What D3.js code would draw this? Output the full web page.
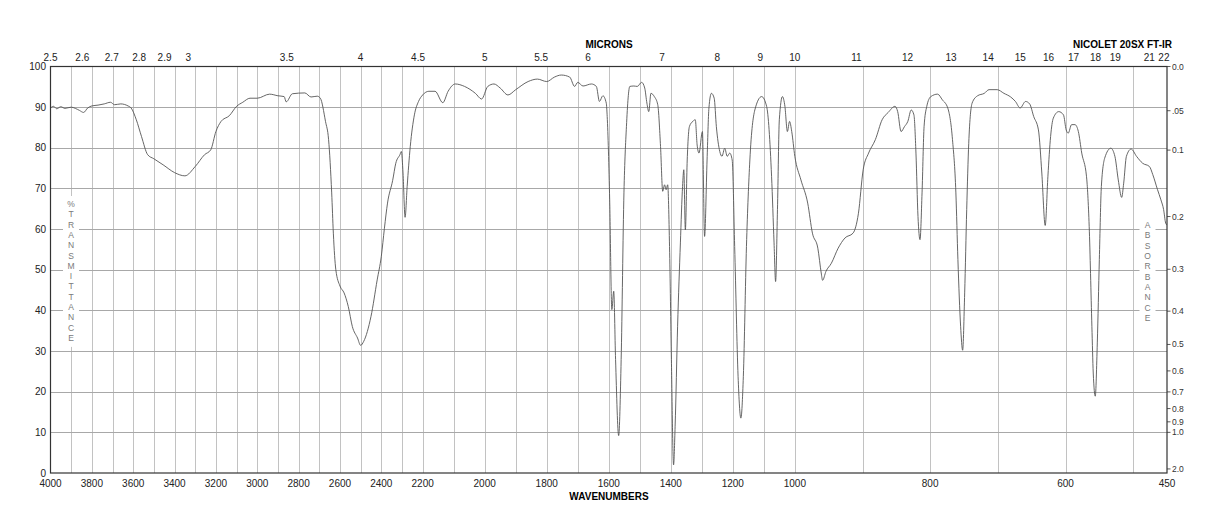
<!DOCTYPE html>
<html>
<head>
<meta charset="utf-8">
<script src="https://cdn.jsdelivr.net/npm/d3@7"></script>
<style>
  body { margin: 0; background: #fff; }
  svg { display: block; font-family: "Liberation Sans", Arial, Helvetica, sans-serif; }
</style>
</head>
<body>
<svg id="chart" width="1218" height="528"></svg>
<script>
// spectrum (cm-1 -> %T)
const wavenumbers = [
  4000, 3985, 3970, 3950, 3930, 3900, 3880, 3860, 3840, 3820, 3800, 3770, 3740, 3710, 3690, 3660,
  3625, 3610, 3585, 3560, 3530, 3500, 3455, 3400, 3350, 3300, 3255, 3225, 3200, 3175, 3135, 3100,
  3070, 3035, 3000, 2940, 2900, 2870, 2860, 2830, 2770, 2740, 2710, 2695, 2670, 2655, 2640, 2632,
  2620, 2600, 2580, 2560, 2540, 2515, 2500, 2485, 2450, 2420, 2400, 2385, 2370, 2345, 2330, 2310,
  2303, 2295, 2285, 2275, 2260, 2240, 2220, 2200, 2180, 2160, 2135, 2118, 2095, 2065, 2030, 2010,
  1990, 1970, 1950, 1925, 1900, 1860, 1830, 1800, 1775, 1753, 1726, 1710, 1700, 1683, 1656, 1640,
  1630, 1619, 1608, 1605, 1597, 1590, 1584, 1578, 1568, 1560, 1551, 1543, 1532, 1519, 1508, 1494,
  1484, 1477, 1471, 1464, 1453, 1442, 1433, 1426, 1420, 1415, 1410, 1404, 1398, 1391, 1386, 1378,
  1369, 1362, 1358, 1353, 1347, 1340, 1329, 1321, 1315, 1309, 1298, 1291, 1283, 1277, 1269, 1260,
  1253, 1242, 1235, 1226, 1218, 1210, 1202, 1194, 1183, 1174, 1166, 1156, 1145, 1129, 1107, 1091,
  1075, 1067, 1062, 1056, 1050, 1040, 1032, 1024, 1017, 1010, 1000, 991, 981, 974, 966, 961,
  959, 954, 946, 936, 926, 914, 906, 899, 891, 881, 871, 862, 852, 848, 843, 838,
  833, 828, 824, 821, 818, 815, 812, 809, 805, 799, 789, 782, 774, 767, 762, 759,
  755, 752, 749, 746, 743, 738, 730, 720, 713, 701, 691, 681, 674, 667, 659, 653,
  647, 640, 635, 630, 626, 622, 618, 610, 603, 599, 596, 591, 586, 581, 576, 569,
  565, 561, 559, 556, 553, 550, 547, 542, 533, 527, 522, 517, 514, 510, 503, 495,
  486, 476, 471, 464, 459, 455, 452, 450
];
const transmittance = [
  89.8, 90.2, 89.6, 90.1, 89.7, 90.0, 89.7, 89.2, 88.7, 89.8, 90.3, 90.5, 90.8, 91.2, 90.6, 90.8,
  90.3, 89.8, 86.9, 82.8, 78.3, 77.3, 75.8, 73.9, 73.1, 75.4, 78.3, 79.5, 84.0, 86.5, 87.9, 90.2,
  91.2, 92.2, 92.2, 93.2, 92.8, 92.6, 91.3, 93.3, 93.5, 92.5, 92.7, 92.2, 86.5, 82.0, 68.9, 59.0,
  50.0, 46.0, 44.3, 41.0, 36.0, 33.2, 31.4, 32.4, 38.5, 47.5, 53.3, 60.2, 66.4, 72.0, 76.2, 78.3,
  79.1, 73.8, 62.9, 70.5, 80.3, 88.1, 91.4, 93.0, 93.9, 93.9, 91.1, 93.9, 95.7, 95.1, 93.4, 92.0,
  95.1, 95.7, 94.7, 93.0, 94.3, 96.3, 96.9, 96.3, 97.4, 97.9, 97.4, 95.1, 96.1, 95.2, 95.7, 95.1,
  91.4, 92.8, 91.0, 87.7, 67.2, 40.2, 44.7, 27.9, 9.2, 27.9, 68.9, 85.2, 95.1, 95.2, 95.1, 96.1,
  94.7, 91.0, 88.9, 93.4, 92.6, 90.6, 80.3, 69.3, 70.9, 69.7, 70.9, 55.7, 27.9, 2.0, 11.5, 36.1,
  56.6, 70.5, 74.6, 59.8, 77.0, 85.2, 86.5, 86.9, 80.7, 78.7, 84.0, 58.2, 77.0, 89.8, 93.4, 92.2,
  85.2, 79.1, 77.9, 79.9, 77.9, 78.7, 77.0, 55.7, 23.8, 13.5, 23.8, 55.7, 77.0, 89.3, 92.6, 90.2,
  73.0, 56.6, 47.1, 64.8, 86.9, 92.6, 90.2, 84.0, 86.5, 84.0, 77.9, 72.1, 66.4, 59.0, 55.3, 49.2,
  47.4, 49.6, 51.6, 55.3, 57.8, 59.0, 63.9, 74.6, 78.7, 82.0, 86.9, 88.7, 90.2, 88.9, 84.0, 85.2,
  86.5, 89.3, 88.1, 78.7, 63.1, 57.4, 68.9, 85.2, 90.2, 92.6, 93.2, 91.8, 89.8, 82.0, 68.9, 52.5,
  36.1, 30.2, 44.3, 64.8, 81.1, 91.0, 92.8, 93.4, 94.3, 94.3, 93.4, 92.5, 91.4, 89.8, 91.4, 90.8,
  87.7, 84.4, 73.8, 60.9, 73.0, 82.8, 87.3, 88.9, 88.1, 84.4, 83.6, 85.7, 85.7, 84.0, 78.7, 73.0,
  60.7, 36.1, 24.6, 18.9, 32.0, 52.5, 70.5, 77.5, 79.9, 77.9, 72.1, 67.8, 71.3, 77.9, 79.7, 77.9,
  76.2, 75.4, 73.4, 69.7, 67.2, 64.8, 61.5, 61.0
];

// axis labels
const wnLabels = [4000, 3800, 3600, 3400, 3200, 3000, 2800, 2600, 2400, 2200, 2000, 1800, 1600, 1400, 1200, 1000, 800, 600, 450];
const micronLabels = [2.5, 2.6, 2.7, 2.8, 2.9, 3, 3.5, 4, 4.5, 5, 5.5, 6, 7, 8, 9, 10, 11, 12, 13, 14, 15, 16, 17, 18, 19, 21, 22];
const pctLabels = d3.range(0, 101, 10);
const absLabels = ["0.0", ".05", "0.1", "0.2", "0.3", "0.4", "0.5", "0.6", "0.7", "0.8", "0.9", "1.0", "2.0"];
const absValues = [0, 0.05, 0.1, 0.2, 0.3, 0.4, 0.5, 0.6, 0.7, 0.8, 0.9, 1.0, 2.0];

const svg = d3.select("#chart");
const plotLeft = 50.5, plotRight = 1167, plotTop = 66.5, plotBottom = 473;
const panel = (plotRight - plotLeft) / 3;

// three equal panels: 4000-2200, 2200-1000, 1000-450
const x = d3.scaleLinear()
  .domain([4000, 2200, 1000, 450])
  .range([plotLeft, plotLeft + panel, plotLeft + 2 * panel, plotRight]);
const y = d3.scaleLinear().domain([0, 100]).range([plotBottom, plotTop]);

const px = v => Math.round(v) + 0.5;

// grid
const grid = svg.append("g").attr("shape-rendering", "crispEdges");
grid.selectAll(".vgrid")
  .data(d3.range(3900, 450, -100))
  .enter().append("line")
  .attr("class", "vgrid")
  .attr("x1", d => px(x(d))).attr("x2", d => px(x(d)))
  .attr("y1", plotTop).attr("y2", plotBottom)
  .attr("stroke", "#c2c2c2").attr("stroke-width", 1);
grid.selectAll(".hgrid")
  .data(d3.range(10, 100, 10))
  .enter().append("line")
  .attr("class", "hgrid")
  .attr("x1", plotLeft).attr("x2", plotRight)
  .attr("y1", d => px(y(d))).attr("y2", d => px(y(d)))
  .attr("stroke", "#a8a8a8").attr("stroke-width", 1);

// vertical captions sit on a white patch over the grid
function verticalLabel(text, cx, y0, step) {
  const chars = text.split("");
  svg.append("rect")
    .attr("x", cx - 8).attr("y", y0 - 11)
    .attr("width", 16).attr("height", step * (chars.length - 1) + 17)
    .attr("fill", "#fff");
  svg.append("g").selectAll("text")
    .data(chars)
    .enter().append("text")
    .attr("x", cx)
    .attr("y", (d, i) => y0 + i * step)
    .attr("text-anchor", "middle")
    .attr("font-size", 8.5)
    .attr("fill", "#7a7a7a")
    .text(d => d);
}
verticalLabel("%TRANSMITTANCE", 71, 207, 10.3);
verticalLabel("ABSORBANCE", 1147.5, 228, 10.35);

// spectrum
const line = d3.line()
  .x(d => x(d[0]))
  .y(d => y(d[1]))
  .curve(d3.curveMonotoneX);
svg.append("path")
  .datum(wavenumbers.map((w, i) => [w, transmittance[i]]))
  .attr("d", line)
  .attr("fill", "none")
  .attr("stroke", "#555")
  .attr("stroke-width", 0.9);

// frame
svg.append("rect")
  .attr("x", plotLeft).attr("y", plotTop)
  .attr("width", plotRight - plotLeft).attr("height", plotBottom - plotTop)
  .attr("fill", "none").attr("stroke", "#333").attr("stroke-width", 1.2);

// left %T labels
svg.append("g").selectAll("text")
  .data(pctLabels)
  .enter().append("text")
  .attr("x", plotLeft - 4.5)
  .attr("y", d => y(d) + 3.5)
  .attr("text-anchor", "end")
  .attr("font-size", 10)
  .attr("fill", "#222")
  .text(d => d);

// bottom wavenumber labels
svg.append("g").selectAll("text")
  .data(wnLabels)
  .enter().append("text")
  .attr("x", d => x(d))
  .attr("y", 487)
  .attr("text-anchor", "middle")
  .attr("font-size", 10)
  .attr("fill", "#222")
  .text(d => d);

// top micron labels
svg.append("g").selectAll("text")
  .data(micronLabels)
  .enter().append("text")
  .attr("x", d => x(10000 / d))
  .attr("y", 61)
  .attr("text-anchor", "middle")
  .attr("font-size", 10)
  .attr("fill", "#222")
  .text(d => d);

// right absorbance axis
const absG = svg.append("g");
absG.selectAll("line")
  .data(absValues)
  .enter().append("line")
  .attr("x1", plotRight).attr("x2", plotRight + 3.5)
  .attr("y1", d => y(100 * Math.pow(10, -d))).attr("y2", d => y(100 * Math.pow(10, -d)))
  .attr("stroke", "#333").attr("stroke-width", 0.8);
absG.selectAll("text")
  .data(absValues)
  .enter().append("text")
  .attr("x", plotRight + 5)
  .attr("y", d => y(100 * Math.pow(10, -d)) + 3)
  .attr("font-size", 8.5)
  .attr("fill", "#333")
  .text((d, i) => absLabels[i]);

// titles
svg.append("text")
  .attr("x", 609).attr("y", 48)
  .attr("text-anchor", "middle")
  .attr("font-size", 10).attr("font-weight", "bold")
  .text("MICRONS");
svg.append("text")
  .attr("x", 1172).attr("y", 48)
  .attr("text-anchor", "end")
  .attr("font-size", 10).attr("font-weight", "bold")
  .text("NICOLET 20SX FT-IR");
svg.append("text")
  .attr("x", 609).attr("y", 500)
  .attr("text-anchor", "middle")
  .attr("font-size", 10).attr("font-weight", "bold")
  .text("WAVENUMBERS");
</script>
</body>
</html>
